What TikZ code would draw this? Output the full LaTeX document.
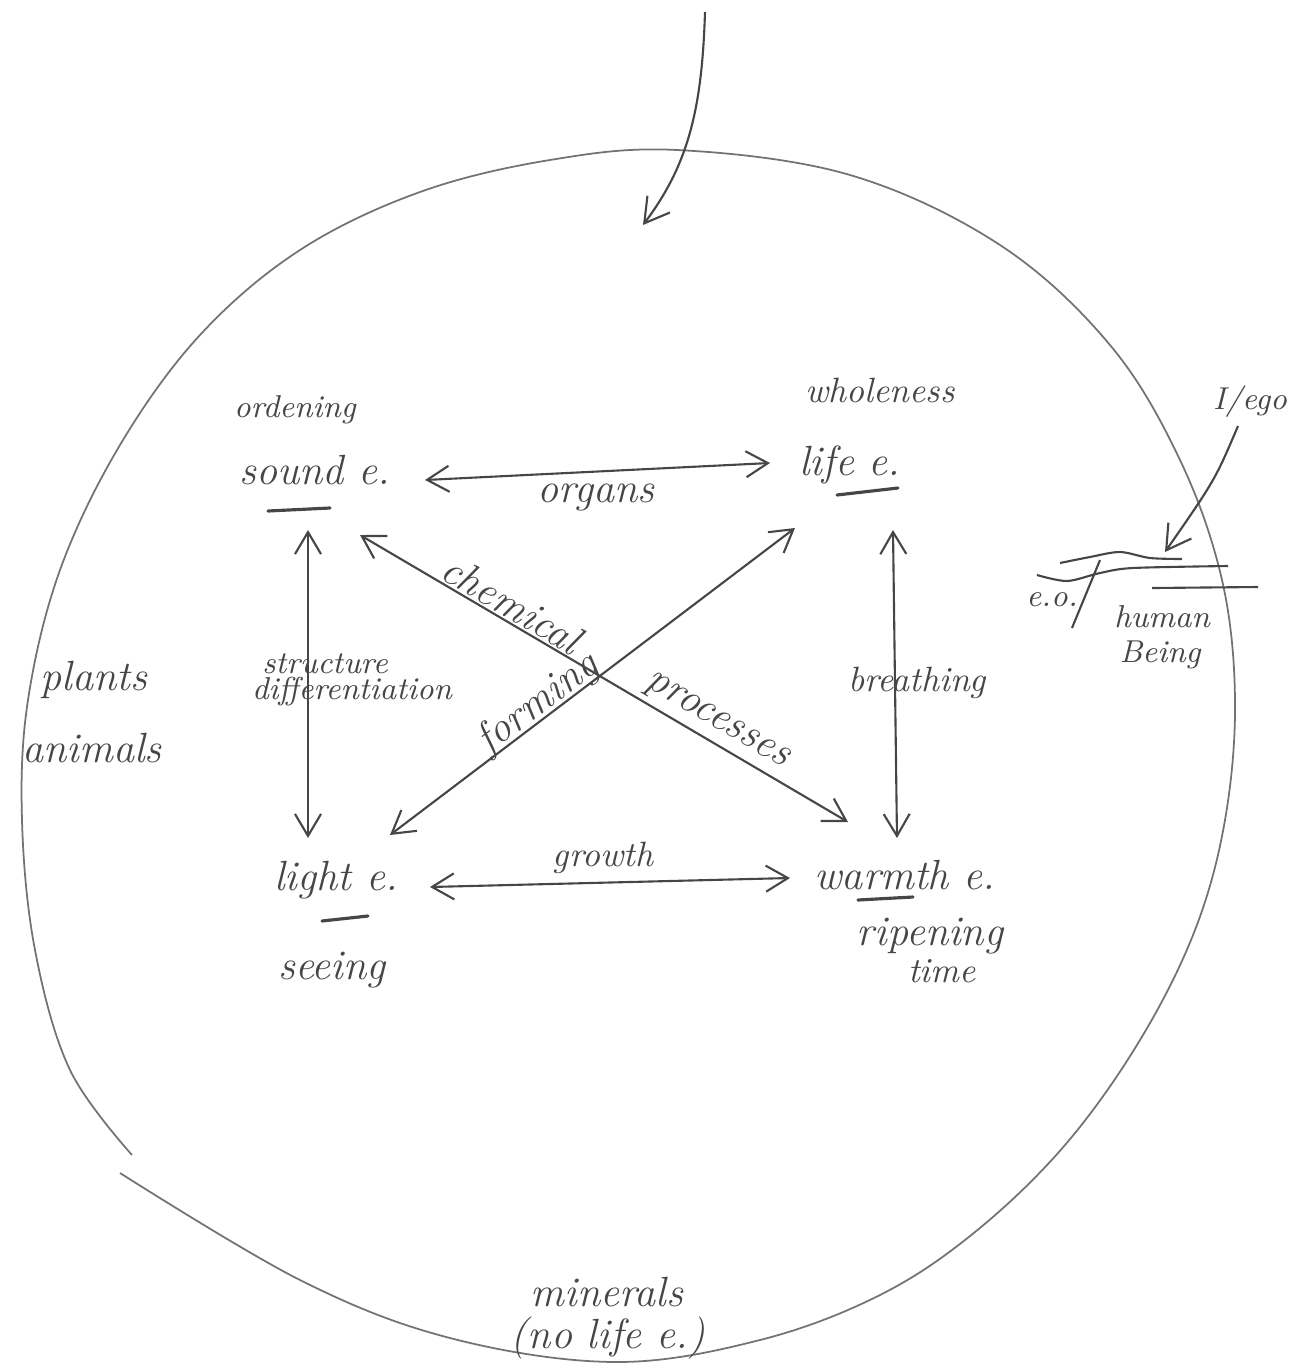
\documentclass[tikz,border=0pt]{standalone}
\usepackage{tikz}
\usetikzlibrary{arrows.meta,calc}
\definecolor{pencil}{RGB}{70,70,70}
\definecolor{rim}{RGB}{115,115,115}

\begin{document}
\begin{tikzpicture}[x=0.01cm, y=-0.01cm,
    every node/.style={font=\itshape, text=pencil},
    elem/.style={font=\large\itshape},
    note/.style={font=\itshape},
    tag/.style={font=\small\itshape},
    link/.style={pencil, line width=0.6pt,
      {Straight Barb[length=2.2mm,width=2.6mm]}-{Straight Barb[length=2.2mm,width=2.6mm]}},
    push/.style={pencil, line width=0.6pt, -{Straight Barb[length=2.4mm,width=2.8mm]}},
    emph/.style={pencil, line width=0.9pt, line cap=round}]
  \useasboundingbox (0,0) rectangle (1297,1369);

  % the boundary of the living world
  \draw[rim, line width=0.5pt] plot[smooth, tension=0.6] coordinates {
    (120,1173) (300,1280) (450,1338) (615,1362) (760,1340) (880,1295)
    (975,1232) (1065,1145) (1140,1040) (1195,930) (1225,820) (1235,700)
    (1222,580) (1180,460) (1110,345) (1000,245) (850,175) (677,150)
    (550,160) (420,192) (300,250) (200,335) (120,445) (60,570) (28,700)
    (22,820) (35,950) (70,1070) (132,1155)};

  % the four ethers
  \node[elem] (sound) at (315,470) {sound e.};
  \node[elem] (life) at (850,465) {life e.};
  \node[elem] (light) at (336,880) {light e.};
  \node[elem] (warmth) at (905,875) {warmth e.};

  \node[tag] (ordening) at (295,410) {ordening};
  \node[note] (wholeness) at (880,390) {wholeness};
  \node[elem] (seeing) at (332,970) {seeing};
  \node[elem] (ripening) at (930,936) {ripening};
  \node[note] (time) at (942,971) {time};

  \draw[emph] (268,511) -- (330,508);
  \draw[emph] (837,495) -- (898,488);
  \draw[emph] (322,921) -- (368,916);
  \draw[emph] (858,900) -- (913,897);

  % kingdoms
  \node[elem] (plants) at (94,680) {plants};
  \node[elem] (animals) at (92,748) {animals};
  \node[elem] (minerals) at (607,1292) {minerals};
  \node[elem] (nolife) at (608,1338) {(no life e.)};

  % relations
  \draw[link] ($(sound)+(110,10)$) -- ($(life)+(-80,-2)$);
  \draw[link] ($(sound)+(-7,60)$) -- ($(light)+(-28,-42)$);
  \draw[link] ($(life)+(43,65)$) -- ($(warmth)+(-8,-37)$);
  \draw[link] ($(light)+(94,7)$) -- ($(warmth)+(-115,3)$);
  \draw[link] ($(sound)+(45,65)$) -- ($(warmth)+(-57,-53)$);
  \draw[link] ($(light)+(54,-45)$) -- ($(life)+(-55,63)$);

  \node[elem] (organs) at (596,497) {organs};
  \node[note] (growth) at (603,858) {growth};
  \node[tag] (structure) at (325,664) {structure};
  \node[tag] (differentiation) at (352,692) {differentiation};
  \node[note] (breathing) at (917,683) {breathing};
  \node[elem, rotate=-30.5] (chemical) at (512,604) {chemical};
  \node[elem, rotate=-30.5] (processes) at (716,722) {processes};
  \node[elem, rotate=37] (forming) at (538,704) {forming};

  % from above
  \coordinate (src) at (705,12);
  \coordinate (entry) at (643,225);
  \draw[push] (src) .. controls (702,110) and (688,165) .. (entry);

  % I / ego and the human being
  \node[tag] (ego) at (1250,402) {I/ego};
  \coordinate (hb) at (1165,552);
  \draw[push] ($(ego)+(-12,24)$) .. controls (1215,480) .. (hb);

  \draw[pencil, line width=0.6pt] plot[smooth] coordinates {
    (1060,563) (1090,557) (1120,552) (1150,558) (1182,559)};
  \draw[pencil, line width=0.6pt] plot[smooth] coordinates {
    (1037,575) (1067,581) (1100,573) (1133,568) (1228,566)};
  \draw[pencil, line width=0.6pt] (1152,588) -- (1258,587);
  \draw[pencil, line width=0.6pt] (1100,560) -- (1072,628);

  \node[tag] (eo) at (1052,600) {e.o.};
  \node[tag] (human) at (1162,617) {human};
  \node[tag] (being) at (1160,655) {Being};
\end{tikzpicture}
\end{document}
